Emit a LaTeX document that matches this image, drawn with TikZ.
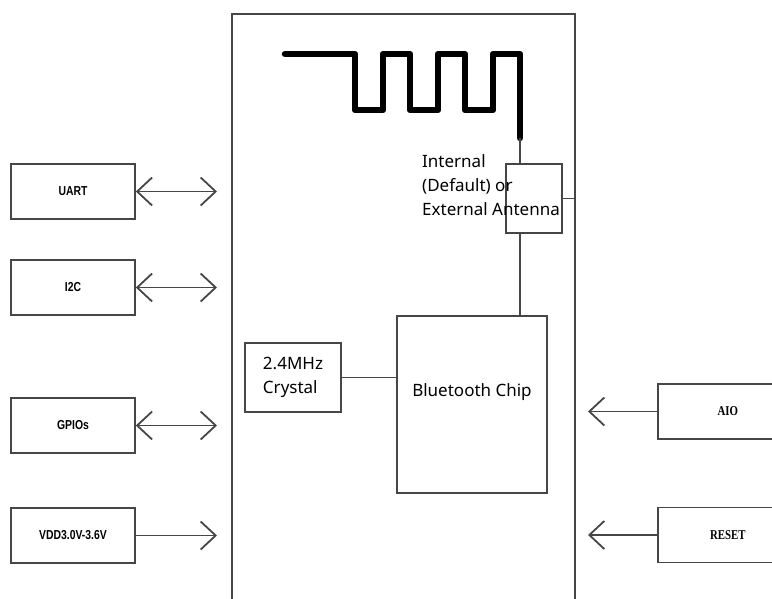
\documentclass[tikz,border=0pt]{standalone}
\usepackage{fontspec}
\setmainfont{Noto Sans}
\newfontfamily\portfont[FakeStretch=0.8]{Liberation Sans}
\newfontfamily\pinfont[FakeStretch=0.8]{Liberation Serif}
\usetikzlibrary{arrows.meta,positioning}
\definecolor{wire}{RGB}{70,70,70}

\begin{document}
\begin{tikzpicture}[x=1pt,y=-1pt,>={Straight Barb[length=15pt,width=28pt]},
    blk/.style={draw=wire,line width=1.6pt,inner sep=0pt},
    port/.style={blk,minimum width=124pt,minimum height=55pt,
      font=\portfont\bfseries\fontsize{13}{15}\selectfont},
    pin/.style={blk,anchor=west,minimum width=140pt,minimum height=55pt,
      font=\pinfont\bfseries\fontsize{13.5}{15}\selectfont},
    link/.style={draw=wire,line width=1.8pt},
    txt/.style={inner sep=0pt,align=left,font=\fontsize{17}{24}\selectfont},
    trace/.style={draw=black,line width=6.5pt,line join=round,line cap=round}
  ]
    \useasboundingbox (0,0) rectangle (772,598);

    % module outline
    \node[blk,anchor=north west,minimum width=343pt,minimum height=620pt] (module) at (231,13) {};

    % interfaces
    \node[port] (uart) at (73,191.5) {UART};
    \node[port] (i2c)  at (73,287.5) {I2C};
    \node[port] (gpio) at (73,425.5) {GPIOs};
    \node[port] (vdd)  at (73,535.5) {VDD3.0V-3.6V};
    \node[pin] (aio)   at (657,411.5) {AIO};
    \node[pin] (reset) at (657,535) {RESET};
    \coordinate (busL) at (217,0);
    \coordinate (busR) at (588,0);

    % inside
    \node[blk,txt,minimum width=96pt,minimum height=69pt] (xtal) at (293,377.5) {2.4MHz\\Crystal};
    \node[blk,minimum width=150pt,minimum height=177pt] (chip) at (472,404.5) {};
    \node[txt] (chiptext) at ([yshift=12pt]chip.center) {Bluetooth Chip};
    \node[blk,minimum width=56pt,minimum height=69pt] (ant) at (534,198.5) {};
    \node[txt,anchor=north west] (anttext) at (422,154) {Internal\\(Default) or\\External Antenna};
    \coordinate (antend) at (520,138);

    % antenna trace
    \draw[trace] (285,54) -| (355,110) -| (383,54) -| (410,110) -| (438,54)
      -| (465,110) -| (493,54) -| (antend);

    % connections
    \draw[link,<->] (uart.east) -- (uart.east -| busL);
    \draw[link,<->] (i2c.east) -- (i2c.east -| busL);
    \draw[link,<->] (gpio.east) -- (gpio.east -| busL);
    \draw[link,->] (vdd.east) -- (vdd.east -| busL);
    \draw[link,->] (aio.west) -- (aio.west -| busR);
    \draw[link,->] (reset.west) -- (reset.west -| busR);
    \draw[link] (xtal.east) -- (xtal.east -| chip.west);
    \draw[link] (antend) -- (antend |- ant.north);
    \draw[link] (antend |- ant.south) -- (antend |- chip.north);
    \draw[link] (ant.east) -- (ant.east -| module.east);
\end{tikzpicture}
\end{document}
